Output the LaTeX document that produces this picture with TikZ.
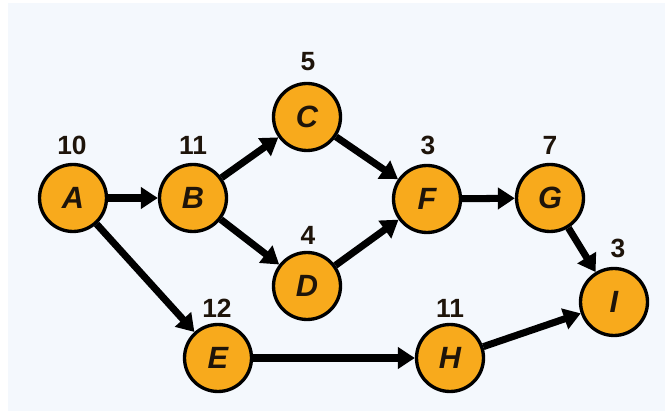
\documentclass[tikz,border=0pt]{standalone}
\usepackage{fontspec}
\setmainfont{Liberation Sans}
\usetikzlibrary{arrows.meta}
\definecolor{panel}{HTML}{F4F8FD}
\definecolor{act}{HTML}{F8AA1C}
\definecolor{ink}{HTML}{1E140A}
\tikzset{task/.style={circle,draw=black,line width=1.9pt,fill=act,minimum size=1.34cm,inner sep=0pt,font=\fontsize{17.5}{17.5}\selectfont\bfseries\itshape,text=ink}}
\tikzset{dur/.style={font=\fontsize{15}{15}\selectfont\bfseries,text=ink,inner sep=0pt}}
\tikzset{link/.style={line width=4pt,-{Triangle[length=0.34cm,width=0.42cm]}}}

\begin{document}
\begin{tikzpicture}[x=0.02cm,y=-0.02cm]
  \useasboundingbox (0,0) rectangle (665,411);
  \fill[panel] (8,3) rectangle (665,411);
  % activities
  \node[task] (A) at (73,198) {A};
  \node[task] (B) at (193,198) {B};
  \node[task] (C) at (307,117) {C};
  \node[task] (D) at (307,286) {D};
  \node[task] (F) at (427,199) {F};
  \node[task] (G) at (550,198) {G};
  \node[task] (I) at (614,302) {I};
  \node[task] (E) at (218,358) {E};
  \node[task] (H) at (450,358) {H};
  % durations
  \node[dur] (dA) at (72,145) {10};
  \node[dur] (dB) at (193,145) {11};
  \node[dur] (dC) at (308,62) {5};
  \node[dur] (dD) at (308,235) {4};
  \node[dur] (dF) at (428,145) {3};
  \node[dur] (dG) at (550,145) {7};
  \node[dur] (dI) at (618,248) {3};
  \node[dur] (dE) at (217,308) {12};
  \node[dur] (dH) at (450,308) {11};
  % precedences
  \draw[link] (A) -- (B);
  \draw[link] (B) -- (C);
  \draw[link] (B) -- (D);
  \draw[link] (C) -- (F);
  \draw[link] (D) -- (F);
  \draw[link] (F) -- (G);
  \draw[link] (G) -- (I);
  \draw[link] (A) -- (E);
  \draw[link] (E) -- (H);
  \draw[link] (H) -- (I);
\end{tikzpicture}
\end{document}
